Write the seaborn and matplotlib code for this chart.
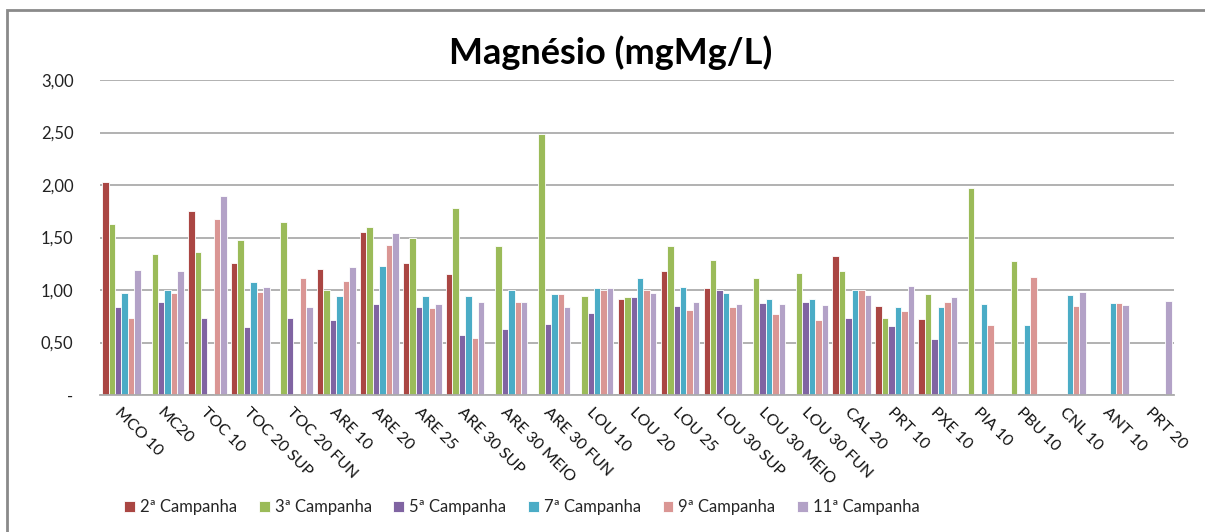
import numpy as np
import pandas as pd
import matplotlib
matplotlib.use("Agg")
import matplotlib.pyplot as plt
import seaborn as sns
from matplotlib.patches import Rectangle

categories = ["MCO 10", "MC20", "TOC 10", "TOC 20 SUP", "TOC 20 FUN", "ARE 10", "ARE 20",
              "ARE 25", "ARE 30 SUP", "ARE 30 MEIO", "ARE 30 FUN", "LOU 10", "LOU 20",
              "LOU 25", "LOU 30 SUP", "LOU 30 MEIO", "LOU 30 FUN", "CAL 20", "PRT 10",
              "PXE 10", "PIA 10", "PBU 10", "CNL 10", "ANT 10", "PRT 20"]
series_names = ["2ª Campanha", "3ª Campanha", "5ª Campanha", "7ª Campanha",
                "9ª Campanha", "11ª Campanha"]
N = None
camp2 = [2.03, N, 1.75, 1.26, N, 1.20, 1.55, 1.26, 1.15, N, N, N, 0.91, 1.18, 1.02, N, N,
         1.32, 0.85, 0.72, N, N, N, N, N]
camp3 = [1.63, 1.34, 1.36, 1.48, 1.65, 1.00, 1.60, 1.50, 1.78, 1.42, 2.49, 0.94, 0.93, 1.42,
         1.29, 1.11, 1.16, 1.18, 0.73, 0.96, 1.97, 1.28, N, N, N]
camp5 = [0.84, 0.89, 0.73, 0.65, 0.73, 0.71, 0.87, 0.84, 0.57, 0.63, 0.68, 0.78, 0.93, 0.85,
         1.00, 0.88, 0.89, 0.73, 0.66, 0.53, N, N, N, N, N]
camp7 = [0.97, 1.00, N, 1.08, N, 0.94, 1.23, 0.94, 0.94, 1.00, 0.96, 1.02, 1.11, 1.03,
         0.97, 0.91, 0.91, 1.00, 0.84, 0.84, 0.87, 0.67, 0.95, 0.88, N]
camp9 = [0.73, 0.97, 1.68, 0.98, 1.11, 1.09, 1.43, 0.83, 0.54, 0.89, 0.96, 1.00, 1.00, 0.81,
         0.84, 0.77, 0.71, 1.00, 0.80, 0.89, 0.67, 1.12, 0.85, 0.88, N]
camp11 = [1.19, 1.18, 1.90, 1.03, 0.84, 1.22, 1.54, 0.87, 0.89, 0.89, 0.84, 1.02, 0.97, 0.89,
          0.87, 0.87, 0.86, 0.95, 1.04, 0.93, N, N, 0.98, 0.86, 0.90]
colors = ["#AA4643", "#9BBB59", "#8064A2", "#4BACC6", "#DA9694", "#B3A2C7"]
y_ticks = [0, 0.5, 1.0, 1.5, 2.0, 2.5, 3.0]
y_tick_labels = ["-", "0,50", "1,00", "1,50", "2,00", "2,50", "3,00"]

all_series = [camp2, camp3, camp5, camp7, camp9, camp11]
rows = []
for name, vals in zip(series_names, all_series):
    for c, v in zip(categories, vals):
        rows.append({"cat": c, "serie": name, "val": np.nan if v is None else v})
df = pd.DataFrame(rows)

sns.set_theme(style="white")
plt.rcParams["font.family"] = ["Lato", "DejaVu Sans"]

W, H = 1205, 532
fig = plt.figure(figsize=(W / 100, H / 100), dpi=100)
ax = fig.add_axes([100 / W, (H - 395) / H, (1174 - 100) / W, (395 - 80) / H])

sns.barplot(data=df, x="cat", y="val", hue="serie", order=categories,
            hue_order=series_names, palette=colors, width=0.9, errorbar=None,
            ax=ax, saturation=1, edgecolor="white", linewidth=0.6)

ax.set_ylim(0, 3.0)
ax.set_xlim(-0.5, len(categories) - 0.5)
ax.set_yticks(y_ticks)
ax.set_yticklabels(y_tick_labels, fontsize=12, color="#222222")
ax.yaxis.grid(True, color="#ABABAB", linewidth=1.3)
ax.set_axisbelow(True)
for s in ["left", "right", "top"]:
    ax.spines[s].set_visible(False)
ax.spines["bottom"].set_color("#ABABAB")
ax.spines["bottom"].set_linewidth(1.3)
ax.tick_params(axis="y", length=0, pad=19)
ax.tick_params(axis="x", length=0, pad=7)
ax.set_xticks(range(len(categories)))
ax.set_xticklabels(categories, rotation=-45, ha="left", va="top",
                   rotation_mode="anchor", fontsize=11.5, color="#111111")
ax.set_xlabel("")
ax.set_ylabel("")

handles, labels = ax.get_legend_handles_labels()
ax.get_legend().remove()
fig.legend(handles, labels, loc="center", bbox_to_anchor=(522 / W, (H - 507) / H),
           ncol=6, frameon=False, fontsize=12, handlelength=0.65, handleheight=0.65,
           handletextpad=0.3, columnspacing=1.3)

fig.text(611 / W, (H - 53) / H, "Magnésio (mgMg/L)", ha="center", va="center",
         fontsize=26, fontweight="bold", color="#000000")

fig.patches.append(Rectangle((7 / W, -0.1), 1.2, (H - 10) / H + 0.1,
                             transform=fig.transFigure, fill=False,
                             edgecolor="#8A8A8A", linewidth=2))

fig.savefig("out.png", dpi=100)
